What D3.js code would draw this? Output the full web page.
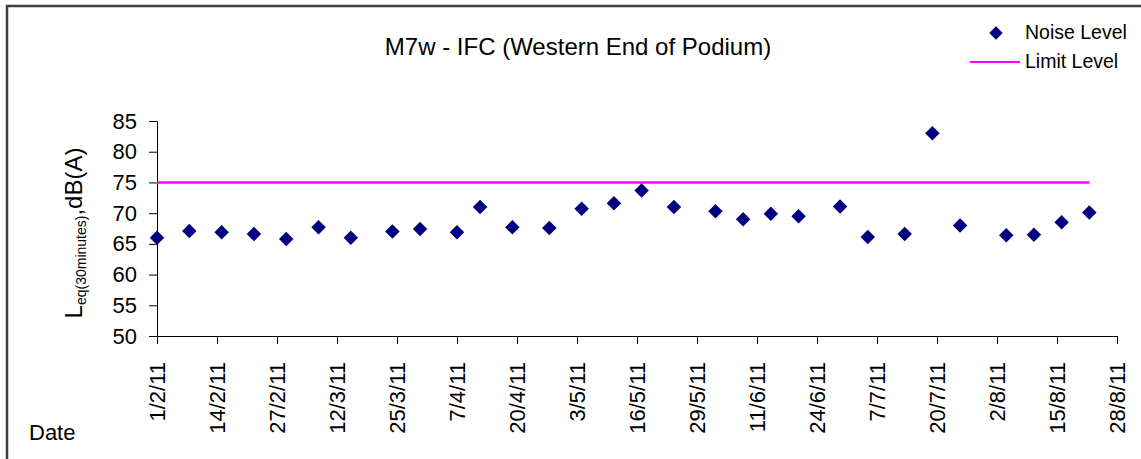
<!DOCTYPE html>
<html>
<head>
<meta charset="utf-8">
<script src="https://cdn.jsdelivr.net/npm/d3@7"></script>
<style>
  body { margin: 0; background: #fff; }
  text { font-family: Arial, "Liberation Sans", sans-serif; fill: #000; }
  .axis path, .axis line { stroke: #000; stroke-width: 1; }
</style>
</head>
<body>
<div id="chart"></div>
<script>
// survey dates (d/m/yy) and measured levels
var dates = ['1/2/11', '8/2/11', '15/2/11', '22/2/11', '1/3/11', '8/3/11', '15/3/11', '24/3/11',
  '30/3/11', '7/4/11', '12/4/11', '19/4/11', '27/4/11', '4/5/11', '11/5/11', '17/5/11',
  '24/5/11', '2/6/11', '8/6/11', '14/6/11', '20/6/11', '29/6/11', '5/7/11', '13/7/11',
  '19/7/11', '25/7/11', '4/8/11', '10/8/11', '16/8/11', '22/8/11'];
var noiseLevel = [66.0, 67.1, 66.9, 66.6, 65.8, 67.7, 66.0, 67.0,
  67.4, 66.9, 71.0, 67.7, 67.6, 70.7, 71.6, 73.7,
  71.0, 70.3, 69.0, 69.9, 69.5, 71.1, 66.1, 66.6,
  83.0, 68.0, 66.4, 66.5, 68.5, 70.1];
var limitLevel = 75;

var xTickLabels = ['1/2/11', '14/2/11', '27/2/11', '12/3/11', '25/3/11', '7/4/11', '20/4/11', '3/5/11',
  '16/5/11', '29/5/11', '11/6/11', '24/6/11', '7/7/11', '20/7/11', '2/8/11', '15/8/11', '28/8/11'];
var yTicks = [50, 55, 60, 65, 70, 75, 80, 85];

var width = 1141;
var height = 459;

var parseDate = function(s) {
  var p = s.split('/');
  return new Date(Date.UTC(2000 + (+p[2]), +p[1] - 1, +p[0]));
};

var svg = d3.select('#chart').append('svg')
  .attr('width', width)
  .attr('height', height);

// outer frame (only top and left edges fall inside the picture)
svg.append('rect')
  .attr('x', 7)
  .attr('y', 6)
  .attr('width', 1300)
  .attr('height', 700)
  .attr('fill', 'none')
  .attr('stroke', '#404040')
  .attr('stroke-width', 2.5);

var xScale = d3.scaleUtc()
  .domain([parseDate(xTickLabels[0]), parseDate(xTickLabels[xTickLabels.length - 1])])
  .range([157, 1117]);

var yScale = d3.scaleLinear()
  .domain([50, 85])
  .range([336, 121]);

// axes
var xAxis = d3.axisBottom(xScale)
  .tickValues(xTickLabels.map(parseDate))
  .tickFormat(function(d, i) { return xTickLabels[i]; })
  .tickSizeInner(8)
  .tickSizeOuter(0);

var yAxis = d3.axisLeft(yScale)
  .tickValues(yTicks)
  .tickSizeInner(8)
  .tickSizeOuter(0)
  .tickPadding(12);

var gx = svg.append('g')
  .attr('class', 'axis')
  .attr('transform', 'translate(0,' + yScale(50) + ')')
  .call(xAxis);

gx.selectAll('text')
  .style('font-size', '22px')
  .style('font-family', 'Arial, "Liberation Sans", sans-serif')
  .attr('transform', 'rotate(-90)')
  .attr('text-anchor', 'end')
  .attr('x', -26)
  .attr('y', 0)
  .attr('dy', '0.35em');

svg.append('g')
  .attr('class', 'axis')
  .attr('transform', 'translate(' + xScale.range()[0] + ',0)')
  .call(yAxis)
  .selectAll('text')
  .style('font-size', '22px')
  .style('font-family', 'Arial, "Liberation Sans", sans-serif');

svg.selectAll('.domain').attr('stroke', '#000');

// limit line, spans the survey period
svg.append('line')
  .attr('x1', xScale(parseDate(dates[0])))
  .attr('x2', xScale(parseDate(dates[dates.length - 1])))
  .attr('y1', yScale(limitLevel))
  .attr('y2', yScale(limitLevel))
  .attr('stroke', '#ff00ff')
  .attr('stroke-width', 2.5);

// noise points
var diamond = d3.symbol().type(d3.symbolSquare).size(105);

svg.selectAll('.pt')
  .data(dates)
  .enter()
  .append('path')
  .attr('class', 'pt')
  .attr('d', diamond)
  .attr('fill', '#000080')
  .attr('transform', function(d, i) {
    return 'translate(' + xScale(parseDate(d)) + ',' + yScale(noiseLevel[i]) + ') rotate(45)';
  });

// title
svg.append('text')
  .attr('x', 578)
  .attr('y', 55)
  .attr('text-anchor', 'middle')
  .style('font-size', '24px')
  .text('M7w - IFC (Western End of Podium)');

// y axis label
var yLabel = svg.append('text')
  .attr('transform', 'translate(82,233) rotate(-90)')
  .attr('text-anchor', 'middle')
  .style('font-size', '24px');
yLabel.append('tspan').text('L');
yLabel.append('tspan').attr('dy', 4).style('font-size', '14px').text('eq(30minutes)');
yLabel.append('tspan').attr('dy', -4).text(',dB(A)');

svg.append('text')
  .attr('x', 29)
  .attr('y', 440)
  .style('font-size', '22px')
  .text('Date');

// legend
svg.append('path')
  .attr('d', d3.symbol().type(d3.symbolSquare).size(90))
  .attr('fill', '#000080')
  .attr('transform', 'translate(996,33) rotate(45)');

svg.append('text')
  .attr('x', 1025)
  .attr('y', 39)
  .style('font-size', '19.5px')
  .text('Noise Level');

svg.append('line')
  .attr('x1', 970)
  .attr('x2', 1020)
  .attr('y1', 62)
  .attr('y2', 62)
  .attr('stroke', '#ff00ff')
  .attr('stroke-width', 2);

svg.append('text')
  .attr('x', 1025)
  .attr('y', 68)
  .style('font-size', '19.5px')
  .text('Limit Level');
</script>
</body>
</html>
